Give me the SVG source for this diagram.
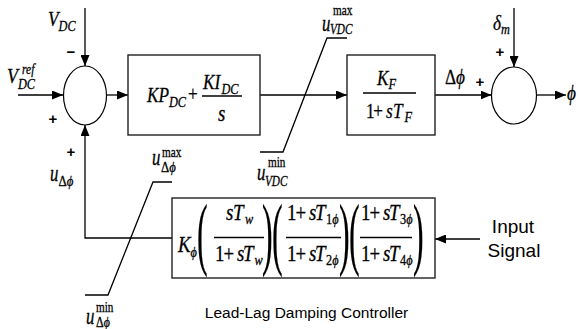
<svg xmlns="http://www.w3.org/2000/svg" width="578" height="329" viewBox="0 0 578 329">
<defs>
<style>
.ln{stroke:#000;stroke-width:1.3;fill:none}
.bx{stroke:#222;stroke-width:1.4;fill:#fff}
.sj{stroke:#000;stroke-width:1.2;fill:#fff}
.m{font-family:"Liberation Serif","Times New Roman",serif;font-style:italic;fill:#000;stroke:#000;stroke-width:0.3}
.r{font-family:"Liberation Serif","Times New Roman",serif;font-style:normal;fill:#000;stroke:#000;stroke-width:0.3}
.sg{font-family:"Liberation Sans",Arial,sans-serif;font-weight:bold;font-size:15px;text-anchor:middle;fill:#000}
.sn{font-family:"Liberation Sans",Arial,sans-serif;fill:#000}
</style>
<marker id="ah" viewBox="0 0 11 9" refX="11" refY="4.5" markerWidth="11" markerHeight="9" markerUnits="userSpaceOnUse" orient="auto">
<path d="M0,0 L11,4.5 L0,9 z" fill="#000"/>
</marker>
</defs>
<rect width="578" height="329" fill="#fff"/>

<g id="connectors">
<line class="ln" x1="18" y1="95" x2="63" y2="95" marker-end="url(#ah)"/>
<line class="ln" x1="85" y1="8" x2="85" y2="66" marker-end="url(#ah)"/>
<line class="ln" x1="106.5" y1="95" x2="128" y2="95" marker-end="url(#ah)"/>
<line class="ln" x1="260" y1="95" x2="347" y2="95" marker-end="url(#ah)"/>
<line class="ln" x1="435" y1="95" x2="491.5" y2="95" marker-end="url(#ah)"/>
<line class="ln" x1="514" y1="8" x2="514" y2="67" marker-end="url(#ah)"/>
<line class="ln" x1="536.5" y1="95" x2="566" y2="95" marker-end="url(#ah)"/>
<polyline class="ln" points="172,238 85,238 85,125" marker-end="url(#ah)"/>
<line class="ln" x1="480" y1="239" x2="435" y2="239" marker-end="url(#ah)"/>
</g>

<g id="limiter-vdc">
<polyline class="ln" points="347,38 327,38 283,152 260,152"/>
<text class="m" font-size="24" transform="translate(322,31) scale(0.7,1)">u</text>
<text class="r" font-size="14" transform="translate(333,15) scale(0.8,1)">max</text>
<text class="m" font-size="15" transform="translate(330,34) scale(0.75,1)">VDC</text>
<text class="m" font-size="24" transform="translate(257,180) scale(0.7,1)">u</text>
<text class="r" font-size="14" transform="translate(268,167) scale(0.8,1)">min</text>
<text class="m" font-size="15" transform="translate(265,186) scale(0.75,1)">VDC</text>
</g>

<g id="limiter-dphi">
<polyline class="ln" points="172,182 153,182 108,295 85,295"/>
<text class="m" font-size="24" transform="translate(152,165) scale(0.7,1)">u</text>
<text class="r" font-size="14" transform="translate(162,157) scale(0.8,1)">max</text>
<text font-size="15" transform="translate(161,172) scale(0.85,1)"><tspan class="r">Δ</tspan><tspan class="m">ϕ</tspan></text>
<text class="m" font-size="24" transform="translate(86,324) scale(0.7,1)">u</text>
<text class="r" font-size="14" transform="translate(96,312) scale(0.8,1)">min</text>
<text font-size="14" transform="translate(96,327) scale(0.85,1)"><tspan class="r">Δ</tspan><tspan class="m">ϕ</tspan></text>
</g>

<g id="sum1">
<ellipse class="sj" cx="85" cy="95.5" rx="21.5" ry="29.5"/>
<text class="m" font-size="21" transform="translate(48,26) scale(0.82,1)">V<tspan font-size="15" dy="5">DC</tspan></text>
<text class="m" font-size="22" transform="translate(7,83) scale(0.82,1)">V</text>
<text class="m" font-size="14" transform="translate(22,74) scale(0.82,1)">ref</text>
<text class="m" font-size="15" transform="translate(18,89) scale(0.82,1)">DC</text>
<text class="sg" x="71" y="57">−</text>
<text class="sg" x="53" y="124">+</text>
<text class="sg" x="71" y="157">+</text>
<text class="m" font-size="24" transform="translate(50,181) scale(0.7,1)">u</text>
<text font-size="15" transform="translate(58.5,186) scale(0.85,1)"><tspan class="r">Δ</tspan><tspan class="m">ϕ</tspan></text>
</g>

<g id="pi-controller">
<rect class="bx" x="128" y="55" width="132" height="80"/>
<text class="m" font-size="21" transform="translate(147,102) scale(0.82,1)">KP<tspan font-size="15" dy="5">DC</tspan></text>
<text class="r" font-size="21" transform="translate(188,101) scale(0.82,1)">+</text>
<line class="ln" x1="202" y1="96" x2="242" y2="96" stroke-width="1.1"/>
<text class="m" font-size="21" transform="translate(203,89) scale(0.82,1)">KI<tspan font-size="15" dy="5" dx="1.5">DC</tspan></text>
<text class="m" font-size="23" transform="translate(218,121) scale(0.82,1)">s</text>
</g>

<g id="filter">
<rect class="bx" x="347" y="55" width="88" height="80"/>
<text class="m" font-size="21" transform="translate(377,85) scale(0.82,1)">K<tspan font-size="15" dy="4">F</tspan></text>
<line class="ln" x1="363" y1="93" x2="416" y2="93" stroke-width="1.1"/>
<text font-size="21" transform="translate(366,118) scale(0.82,1)"><tspan class="r" x="0">1</tspan><tspan class="r" x="9">+</tspan><tspan class="m" x="24.4">s</tspan><tspan class="m" x="32.9">T</tspan><tspan class="m" x="47" dy="4" font-size="15">F</tspan></text>
</g>

<g id="sum2">
<ellipse class="sj" cx="514" cy="95.5" rx="22.5" ry="28.5"/>
<text font-size="21" transform="translate(445,84) scale(0.82,1)"><tspan class="r">Δ</tspan><tspan class="m">ϕ</tspan></text>
<text class="sg" x="480" y="87">+</text>
<text class="sg" x="500" y="57">+</text>
<text class="m" font-size="21" transform="translate(493,30) scale(0.82,1)">δ<tspan font-size="15" dy="4">m</tspan></text>
<text class="m" font-size="21" transform="translate(567,100) scale(0.82,1)">ϕ</text>
</g>

<g id="lead-lag">
<rect class="bx" x="172" y="198" width="263" height="80"/>
<text class="m" font-size="23" transform="translate(178,252) scale(0.82,1)">K<tspan font-size="15" dy="5">ϕ</tspan></text>
<text class="r" font-size="80" transform="translate(197,260) scale(0.4,1)">(</text>
<text class="r" font-size="80" transform="translate(262,260) scale(0.4,1)">)</text>
<text class="r" font-size="80" transform="translate(272,260) scale(0.4,1)">(</text>
<text class="r" font-size="80" transform="translate(339,260) scale(0.4,1)">)</text>
<text class="r" font-size="80" transform="translate(349,260) scale(0.4,1)">(</text>
<text class="r" font-size="80" transform="translate(413,260) scale(0.4,1)">)</text>
<line class="ln" x1="214" y1="237.5" x2="264" y2="237.5" stroke-width="1.1"/>
<line class="ln" x1="286" y1="237.5" x2="341" y2="237.5" stroke-width="1.1"/>
<line class="ln" x1="360" y1="237.5" x2="412" y2="237.5" stroke-width="1.1"/>
<text font-size="23" transform="translate(226,220) scale(0.82,1)"><tspan class="m" x="0">s</tspan><tspan class="m" x="8.5">T</tspan><tspan class="m" x="23.2" dy="4" font-size="15">w</tspan></text>
<text font-size="23" transform="translate(215,261) scale(0.82,1)"><tspan class="r" x="0">1</tspan><tspan class="r" x="10.5">+</tspan><tspan class="m" x="26.8">s</tspan><tspan class="m" x="34.1">T</tspan><tspan class="m" x="48.2" dy="4" font-size="15">w</tspan></text>
<text font-size="23" transform="translate(287,220) scale(0.82,1)"><tspan class="r" x="0">1</tspan><tspan class="r" x="10.5">+</tspan><tspan class="m" x="26.8">s</tspan><tspan class="m" x="34.1">T</tspan><tspan class="r" x="47.6" dy="4" font-size="15">1</tspan><tspan class="m" font-size="15">ϕ</tspan></text>
<text font-size="23" transform="translate(287,261) scale(0.82,1)"><tspan class="r" x="0">1</tspan><tspan class="r" x="10.5">+</tspan><tspan class="m" x="26.8">s</tspan><tspan class="m" x="34.1">T</tspan><tspan class="r" x="47.6" dy="4" font-size="15">2</tspan><tspan class="m" font-size="15">ϕ</tspan></text>
<text font-size="23" transform="translate(361,220) scale(0.82,1)"><tspan class="r" x="0">1</tspan><tspan class="r" x="10.5">+</tspan><tspan class="m" x="26.8">s</tspan><tspan class="m" x="34.1">T</tspan><tspan class="r" x="47.6" dy="4" font-size="15">3</tspan><tspan class="m" font-size="15">ϕ</tspan></text>
<text font-size="23" transform="translate(361,261) scale(0.82,1)"><tspan class="r" x="0">1</tspan><tspan class="r" x="10.5">+</tspan><tspan class="m" x="26.8">s</tspan><tspan class="m" x="34.1">T</tspan><tspan class="r" x="47.6" dy="4" font-size="15">4</tspan><tspan class="m" font-size="15">ϕ</tspan></text>
<text class="sn" x="306.5" y="318" font-size="15.5" text-anchor="middle">Lead-Lag Damping Controller</text>
</g>

<g id="input-signal">
<text class="sn" x="513" y="233" font-size="19" text-anchor="middle">Input</text>
<text class="sn" x="514" y="257" font-size="19" text-anchor="middle">Signal</text>
</g>
</svg>
